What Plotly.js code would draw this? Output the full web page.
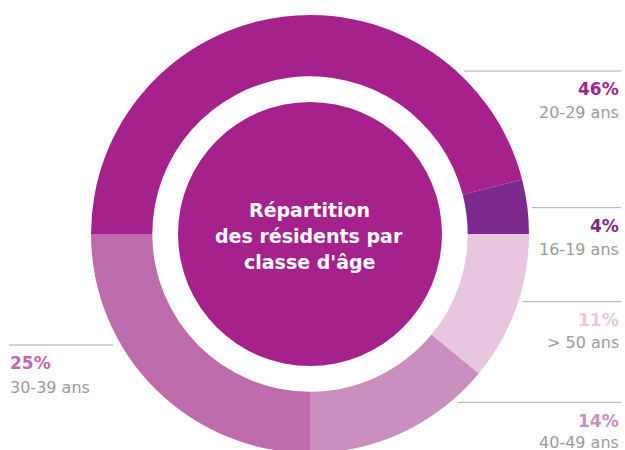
<!DOCTYPE html>
<html>
<head>
<meta charset="utf-8">
<script src="https://cdn.plot.ly/plotly-3.0.1.min.js"></script>
<style>
html,body{margin:0;padding:0;overflow:hidden;background:#fff;}
#chart{width:625px;height:460px;}
</style>
</head>
<body>
<div id="chart"></div>
<script>
// Data
const categories = ["20-29 ans", "16-19 ans", "> 50 ans", "40-49 ans", "30-39 ans"];
const shares = [46, 4, 11, 14, 25];
const colors = ["#A5228D", "#7D2A8E", "#E8C6DF", "#CB8FBF", "#BD6BAA"];
const centerTitle = ["Répartition", "des résidents par", "classe d'âge"];

// Layout geometry (pixels)
const W = 625, H = 460;
const cx = 310, cy = 234, R = 219, Rc = 132;
const px = x => x / W;
const py = y => (H - y) / H;
const FONT = "DejaVu Sans";

const ring = {
  type: "pie",
  values: shares,
  labels: categories,
  marker: {colors: colors, line: {width: 0}},
  hole: 0.72,
  sort: false,
  direction: "clockwise",
  rotation: -90,
  textinfo: "none",
  hoverinfo: "skip",
  showlegend: false,
  domain: {x: [px(cx - R), px(cx + R)], y: [py(cy + R), py(cy - R)]}
};

const shapes = [
  {type: "circle", xref: "paper", yref: "paper",
   x0: px(cx - Rc), x1: px(cx + Rc), y0: py(cy + Rc), y1: py(cy - Rc),
   fillcolor: colors[0], line: {width: 0}, layer: "above"}
];
const annotations = [];

// label placement: [lineY, lineX0, lineX1, pctBaseline, nameBaseline, side]
const placement = [
  [71, 464, 621, 95, 118.3, "right"],
  [207.7, 532, 621, 231.7, 255, "right"],
  [301.7, 523, 621, 325.7, 348.3, "right"],
  [402.3, 458, 621, 426.7, 448, "right"],
  [345, 9, 113, 369.3, 393.3, "left"]
];
const fP = 17, fN = 16;
placement.forEach((p, i) => {
  const [ly, x0, x1, bp, bn, side] = p;
  shapes.push({type: "line", xref: "paper", yref: "paper",
    x0: px(x0), x1: px(x1), y0: py(ly), y1: py(ly),
    line: {color: "#aaaaaa", width: 1}});
  const ax = side === "right" ? px(621) : px(8);
  const anchor = side === "right" ? "right" : "left";
  annotations.push({xref: "paper", yref: "paper", x: ax, xanchor: anchor,
    y: py(bp - 0.36 * fP), yanchor: "middle", showarrow: false,
    text: "<b>" + shares[i] + "%</b>",
    font: {family: FONT, size: fP, color: colors[i]}});
  annotations.push({xref: "paper", yref: "paper", x: ax, xanchor: anchor,
    y: py(bn - 0.36 * fN), yanchor: "middle", showarrow: false,
    text: categories[i],
    font: {family: FONT, size: fN, color: "#9b9b9b"}});
});

const fC = 19;
const centerBaselines = [217, 243, 269];
centerTitle.forEach((t, i) => {
  annotations.push({xref: "paper", yref: "paper", x: px(cx - 1), y: py(centerBaselines[i] - 0.36 * fC),
    xanchor: "center", yanchor: "middle", showarrow: false,
    text: "<b>" + t + "</b>",
    font: {family: FONT, size: fC, color: "#ffffff"}});
});

const layout = {
  width: W, height: H,
  margin: {l: 0, r: 0, t: 0, b: 0},
  paper_bgcolor: "#ffffff",
  showlegend: false,
  shapes: shapes,
  annotations: annotations
};

Plotly.newPlot("chart", [ring], layout, {displayModeBar: false, staticPlot: true});
</script>
</body>
</html>
